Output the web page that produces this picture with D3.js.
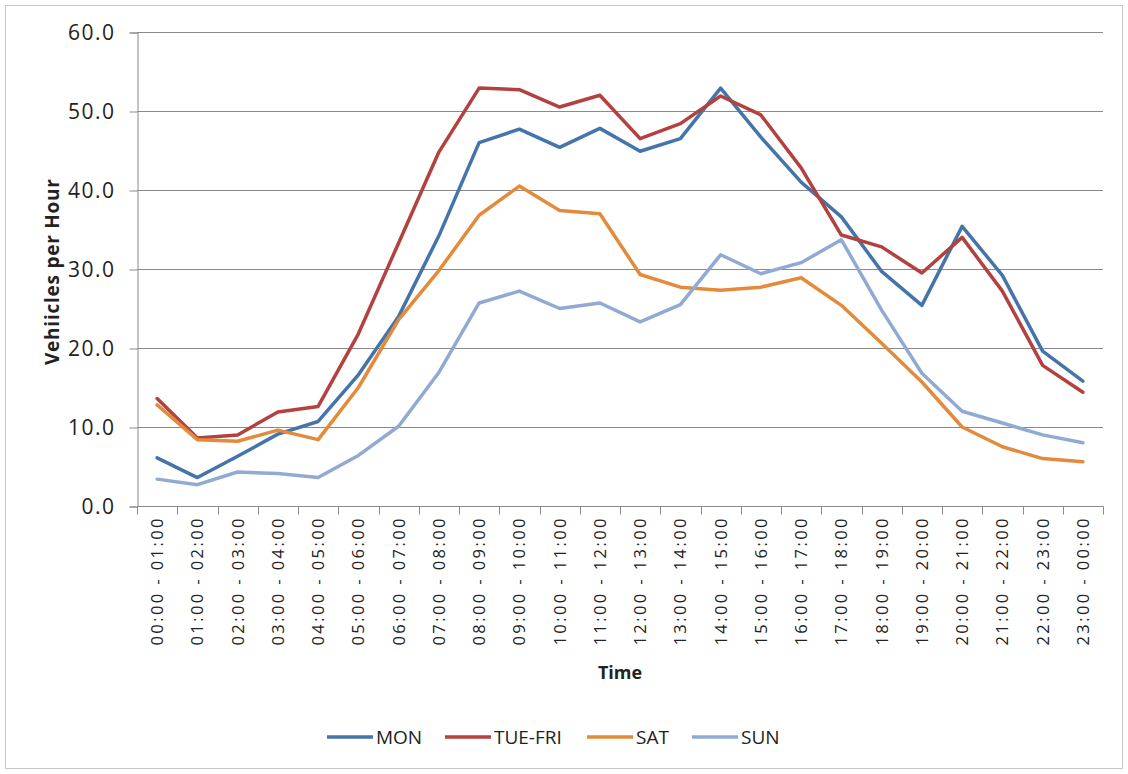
<!DOCTYPE html>
<html>
<head>
<meta charset="utf-8">
<script src="https://cdn.jsdelivr.net/npm/d3@7"></script>
<style>
  html, body { margin: 0; padding: 0; background: #fff; }
  svg { display: block; }
  text { font-family: "Open Sans", "Liberation Sans", sans-serif; fill: #222; }
</style>
</head>
<body>
<svg id="chart" width="1128" height="774"></svg>
<script>
// Hourly time bands
const categories = [
  "00:00 - 01:00", "01:00 - 02:00", "02:00 - 03:00", "03:00 - 04:00",
  "04:00 - 05:00", "05:00 - 06:00", "06:00 - 07:00", "07:00 - 08:00",
  "08:00 - 09:00", "09:00 - 10:00", "10:00 - 11:00", "11:00 - 12:00",
  "12:00 - 13:00", "13:00 - 14:00", "14:00 - 15:00", "15:00 - 16:00",
  "16:00 - 17:00", "17:00 - 18:00", "18:00 - 19:00", "19:00 - 20:00",
  "20:00 - 21:00", "21:00 - 22:00", "22:00 - 23:00", "23:00 - 00:00"
];

// Average vehicles per hour for each day group
const mon    = [6.1, 3.6, 6.3, 9.1, 10.7, 16.6, 24.0, 34.2, 46.0, 47.7, 45.4, 47.8,
                44.9, 46.5, 52.9, 46.7, 41.0, 36.6, 29.7, 25.4, 35.4, 29.2, 19.6, 15.8];
const tueFri = [13.6, 8.6, 9.0, 11.9, 12.6, 21.8, 33.3, 44.8, 52.9, 52.7, 50.5, 52.0,
                46.5, 48.4, 51.9, 49.5, 42.8, 34.3, 32.8, 29.5, 34.0, 27.2, 17.8, 14.4];
const sat    = [12.8, 8.4, 8.2, 9.6, 8.4, 15.0, 23.6, 29.8, 36.8, 40.5, 37.4, 37.0,
                29.3, 27.7, 27.3, 27.7, 28.9, 25.4, 20.6, 15.7, 10.0, 7.5, 6.0, 5.6];
const sun    = [3.4, 2.7, 4.3, 4.1, 3.6, 6.4, 10.1, 16.9, 25.7, 27.2, 25.0, 25.7,
                23.3, 25.5, 31.8, 29.4, 30.8, 33.7, 24.8, 16.8, 12.0, 10.5, 9.0, 8.0];

const seriesNames = ["MON", "TUE-FRI", "SAT", "SUN"];
const yTicks = [0, 10, 20, 30, 40, 50, 60];

const series = [
  { name: seriesNames[0], values: mon,    color: "#4574ab" },
  { name: seriesNames[1], values: tueFri, color: "#b2413f" },
  { name: seriesNames[2], values: sat,    color: "#e38a3b" },
  { name: seriesNames[3], values: sun,    color: "#90aad4" }
];

const svg = d3.select("#chart");

// outer frame
svg.append("rect")
  .attr("x", 5.5).attr("y", 5.5)
  .attr("width", 1117).attr("height", 763)
  .attr("fill", "#fff").attr("stroke", "#c8c8c8");

const plot = { left: 137, right: 1103, top: 32, bottom: 506 };

const x = d3.scaleBand().domain(categories).range([plot.left, plot.right]);
const y = d3.scaleLinear().domain([0, 60]).range([plot.bottom, plot.top]);

// horizontal gridlines
svg.append("g").selectAll("line")
  .data(yTicks.filter(d => d > 0))
  .join("line")
  .attr("x1", plot.left).attr("x2", plot.right)
  .attr("y1", d => Math.round(y(d)) + 0.5).attr("y2", d => Math.round(y(d)) + 0.5)
  .attr("stroke", "#8a8a8a").attr("stroke-width", 1);

// y axis
const yAxis = svg.append("g")
  .attr("transform", `translate(${plot.left + 0.5},0.5)`)
  .call(d3.axisLeft(y).tickValues(yTicks).tickFormat(d3.format(".1f")).tickSize(8).tickPadding(14));
yAxis.select(".domain").attr("stroke", "#8a8a8a");
yAxis.selectAll(".tick line").attr("stroke", "#8a8a8a");
yAxis.selectAll(".tick text")
  .attr("font-size", 21)
  .attr("font-family", "Open Sans, sans-serif")
  .attr("fill", "#222")
  .attr("letter-spacing", 1.5);

// x axis: tick marks on the band boundaries
const xAxisG = svg.append("g").attr("transform", `translate(0,${plot.bottom + 0.5})`);
xAxisG.append("line")
  .attr("x1", plot.left).attr("x2", plot.right + 0.5)
  .attr("stroke", "#8a8a8a");
xAxisG.selectAll("line.tk")
  .data(categories.concat([null]))
  .join("line").attr("class", "tk")
  .attr("x1", (d, i) => Math.round(plot.left + i * x.step()) + 0.5)
  .attr("x2", (d, i) => Math.round(plot.left + i * x.step()) + 0.5)
  .attr("y1", 0).attr("y2", 8)
  .attr("stroke", "#8a8a8a");

xAxisG.selectAll("text.lbl")
  .data(categories)
  .join("text").attr("class", "lbl")
  .attr("transform", d => `translate(${x(d) + x.bandwidth() / 2 + 6},12) rotate(-90)`)
  .attr("text-anchor", "end")
  .attr("font-size", 16.5)
  .attr("textLength", 127)
  .attr("lengthAdjust", "spacing")
  .text(d => d);

// axis titles
svg.append("text")
  .attr("transform", `translate(59,${272}) rotate(-90)`)
  .attr("text-anchor", "middle")
  .attr("font-size", 19)
  .attr("font-weight", "bold")
  .attr("fill", "#111")
  .attr("textLength", 186)
  .attr("lengthAdjust", "spacing")
  .text("Vehiicles per Hour");

svg.append("text")
  .attr("x", (plot.left + plot.right) / 2)
  .attr("y", 679)
  .attr("text-anchor", "middle")
  .attr("font-size", 18)
  .attr("font-weight", "bold")
  .attr("fill", "#111")
  .text("Time");

// series lines
const line = d3.line()
  .x((d, i) => x(categories[i]) + x.bandwidth() / 2)
  .y(d => y(d));

svg.append("g").selectAll("path")
  .data(series)
  .join("path")
  .attr("d", s => line(s.values))
  .attr("fill", "none")
  .attr("stroke", s => s.color)
  .attr("stroke-width", 3.5)
  .attr("stroke-linejoin", "round")
  .attr("stroke-linecap", "round");

// legend
const legendX = [327, 445, 587, 692];
const lg = svg.append("g").selectAll("g")
  .data(series)
  .join("g")
  .attr("transform", (s, i) => `translate(${legendX[i]},737)`);
lg.append("line")
  .attr("x1", 0).attr("x2", 46)
  .attr("stroke", s => s.color)
  .attr("stroke-width", 3.5);
lg.append("text")
  .attr("x", 49).attr("y", 7)
  .attr("font-size", 19)
  .text(s => s.name);
</script>
</body>
</html>
